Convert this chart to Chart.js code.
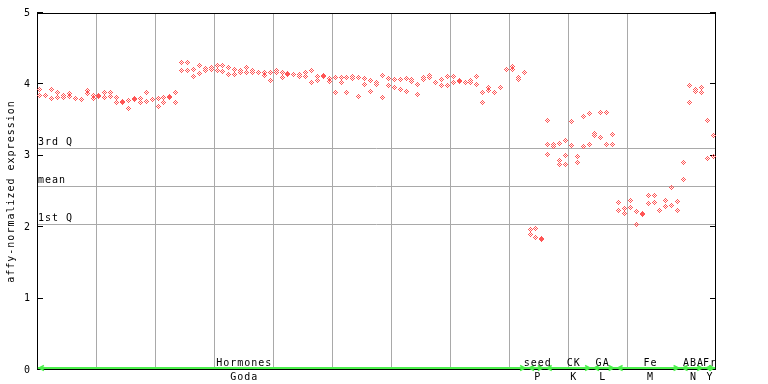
<!DOCTYPE html>
<html><head><meta charset="utf-8">
<script src="https://cdn.jsdelivr.net/npm/chart.js@4.4.1/dist/chart.umd.min.js"></script>
<style>html,body{margin:0;padding:0;background:#fff}canvas{display:block}</style>
</head><body>
<canvas id="c" width="768" height="384"></canvas>
<script>
// ---- data ----
const sampleCount = 115;
const rep1 = [
 3.93,3.85,3.93,3.89,3.85,3.87,3.80,3.79,3.91,3.85,
 3.85,3.88,3.89,3.81,3.76,3.78,3.80,3.80,3.88,3.79,
 3.80,3.81,3.83,3.88,4.31,4.30,4.21,4.27,4.22,4.24,
 4.26,4.27,4.23,4.21,4.20,4.23,4.19,4.16,4.16,4.16,
 4.19,4.16,4.15,4.14,4.14,4.17,4.19,4.11,4.12,4.08,
 4.10,4.09,4.10,4.11,4.10,4.08,4.06,4.03,4.13,4.08,
 4.07,4.07,4.08,4.07,4.00,4.10,4.13,4.03,4.07,4.11,
 4.11,4.05,4.03,4.06,4.11,3.88,3.95,3.89,3.96,4.21,
 4.25,4.10,4.17,1.97,1.98,1.84,3.49,3.16,3.17,3.21,
 3.48,2.99,3.55,3.59,3.31,3.60,3.61,3.30,2.35,2.26,
 2.38,2.22,2.19,2.45,2.45,2.24,2.38,2.56,2.36,2.91,
 3.99,3.93,3.95,3.50,3.29
];
const rep2 = [
 3.85,3.84,3.80,3.81,3.81,3.83,null,null,3.87,3.80,
 3.83,3.81,3.83,3.75,3.75,3.66,3.79,3.74,3.76,null,
 3.69,3.74,3.82,3.74,4.20,4.20,4.11,4.15,4.20,4.21,
 4.20,4.18,4.14,4.14,4.17,4.17,4.16,null,4.13,4.06,
 4.16,4.10,4.14,null,4.11,4.11,4.03,4.06,4.11,4.04,
 3.88,4.02,3.89,4.08,3.83,4.00,3.90,4.00,3.82,3.99,
 3.96,3.93,3.90,4.04,3.86,4.07,4.10,4.02,3.99,3.99,
 4.03,4.04,4.02,4.03,4.00,3.74,3.92,3.88,3.95,null,
 4.21,4.07,4.16,1.90,1.85,1.83,3.16,3.13,2.94,3.01,
 3.15,2.91,3.13,3.16,3.28,3.26,3.16,3.16,2.24,2.19,
 2.28,2.04,2.18,2.33,2.35,2.23,2.29,2.31,2.24,2.67,
 3.74,3.90,3.89,2.96,2.99
];
const extraIdx = [34, 86, 88, 89];
const extraVal = [4.16, 3.02, 2.88, 2.88];

const groupNames = ['Hormones','seed','CK','GA','Fe','ABA','Fr'];
const groupCodes = ['Goda','P','K','L','M','N','Y'];
const groupStart = [0, 83, 86, 94, 98, 109, 113];
const groupEnd   = [83, 86, 94, 98, 109, 113, 115];
const labelPos   = [35.1, 84.8, 90.9, 95.8, 103.9, 111.2, 114.0];

const quartileNames  = ['3rd Q','mean','1st Q'];
const quartileValues = [3.11, 2.58, 2.045];
const yTicks = [0,1,2,3,4,5];

// ---- styles ----
const RED = 'rgb(255,85,85)';
const GRID = '#a9a9a9';
const GREEN = '#4cf04c';
const FONT = '"DejaVu Sans Mono", monospace';

function diamond(){
  const c = document.createElement('canvas');
  c.width = 5; c.height = 5;
  const g = c.getContext('2d');
  g.fillStyle = RED;
  for (let yy=0; yy<5; yy++) for (let xx=0; xx<5; xx++){
    const dx = xx-2, dy = yy-2;
    if (Math.abs(dx)+Math.abs(dy) <= 2 && Math.abs(dx+dy)%2 === 0) g.fillRect(xx,yy,1,1);
  }
  return c;
}
const diamondImg = diamond();

const pts = [];
for (let i=0; i<sampleCount; i++){
  [rep1[i], rep2[i]].forEach(v => { if (v != null) pts.push({x:i+0.5, y:v}); });
}
extraIdx.forEach((i,k) => pts.push({x:i+0.5, y:extraVal[k]}));

function line(ctx,x1,y1,x2,y2){ ctx.beginPath(); ctx.moveTo(x1,y1); ctx.lineTo(x2,y2); ctx.stroke(); }

const deco = {
  id:'deco',
  beforeDraw(chart){ chart.ctx.letterSpacing = '1px'; },
  beforeDatasetsDraw(chart){
    const {ctx, chartArea:a, scales:{x, y}} = chart;
    ctx.save();
    ctx.lineWidth = 1;
    ctx.strokeStyle = GRID;
    quartileValues.forEach(v => {
      const py = Math.round(y.getPixelForValue(v)) + 0.5;
      line(ctx, a.left, py, a.right, py);
    });
    // border
    ctx.strokeStyle = '#000';
    ctx.strokeRect(a.left+0.5, a.top+0.5, a.right-a.left-1, a.bottom-a.top-1);
    // inward ticks
    yTicks.forEach(v => {
      const py = Math.round(y.getPixelForValue(v)) - 0.5;
      line(ctx, a.left, py, a.left+6, py);
      line(ctx, a.right-6, py, a.right, py);
    });
    // green group line
    const gy = a.bottom - 2;
    ctx.strokeStyle = GREEN;
    ctx.lineWidth = 2;
    line(ctx, a.left+1, gy, a.right-1, gy);
    ctx.lineWidth = 1.5;
    groupStart.forEach((s,k) => {
      const sx = x.getPixelForValue(s), ex = x.getPixelForValue(groupEnd[k]);
      ctx.beginPath(); ctx.moveTo(sx+7, gy-2.5); ctx.lineTo(sx+2, gy); ctx.lineTo(sx+7, gy+2.5); ctx.stroke();
      ctx.beginPath(); ctx.moveTo(ex-7, gy-2.5); ctx.lineTo(ex-2, gy); ctx.lineTo(ex-7, gy+2.5); ctx.stroke();
    });
    // texts
    ctx.fillStyle = '#000';
    ctx.font = '10px ' + FONT;
    ctx.letterSpacing = '1px';
    ctx.textBaseline = 'alphabetic';
    ctx.textAlign = 'left';
    quartileNames.forEach((t,k) => {
      const py = Math.round(y.getPixelForValue(quartileValues[k]));
      ctx.fillText(t, a.left+1, py-3);
    });
    ctx.textAlign = 'center';
    groupNames.forEach((t,k) => {
      const px = x.getPixelForValue(labelPos[k]);
      ctx.fillText(t, px, a.bottom-4);
      ctx.fillText(groupCodes[k], px, a.bottom+10);
    });
    ctx.restore();
    ctx.imageSmoothingEnabled = false;
  }
};

new Chart(document.getElementById('c').getContext('2d'), {
  type:'scatter',
  data:{ datasets:[{ data:pts, pointStyle:diamondImg, pointRadius:2.5, borderWidth:0 }] },
  options:{
    responsive:false, animation:false, events:[], devicePixelRatio:1,
    layout:{ padding:{ left:0, right:52, top:13, bottom:0 } },
    plugins:{ legend:{display:false}, tooltip:{enabled:false} },
    scales:{
      x:{ type:'linear', min:0, max:sampleCount,
          afterFit:s => { s.height = 14; },
          ticks:{ display:false, stepSize:10 },
          grid:{ drawTicks:false, lineWidth:1,
                 color: c => (c.tick && (c.tick.value === 0 || c.tick.value === sampleCount)) ? 'rgba(0,0,0,0)' : GRID },
          border:{ display:false } },
      y:{ min:0, max:5,
          afterFit:s => { s.width = 37; },
          ticks:{ stepSize:1, padding:6, color:'#000', font:{ family:FONT, size:10 } },
          grid:{ display:false, drawTicks:false },
          border:{ display:false },
          title:{ display:true, text:'affy-normalized expression', color:'#000',
                  font:{ family:FONT, size:10 }, padding:{ top:5, bottom:0 } } }
    }
  },
  plugins:[deco]
});
</script>
</body></html>
